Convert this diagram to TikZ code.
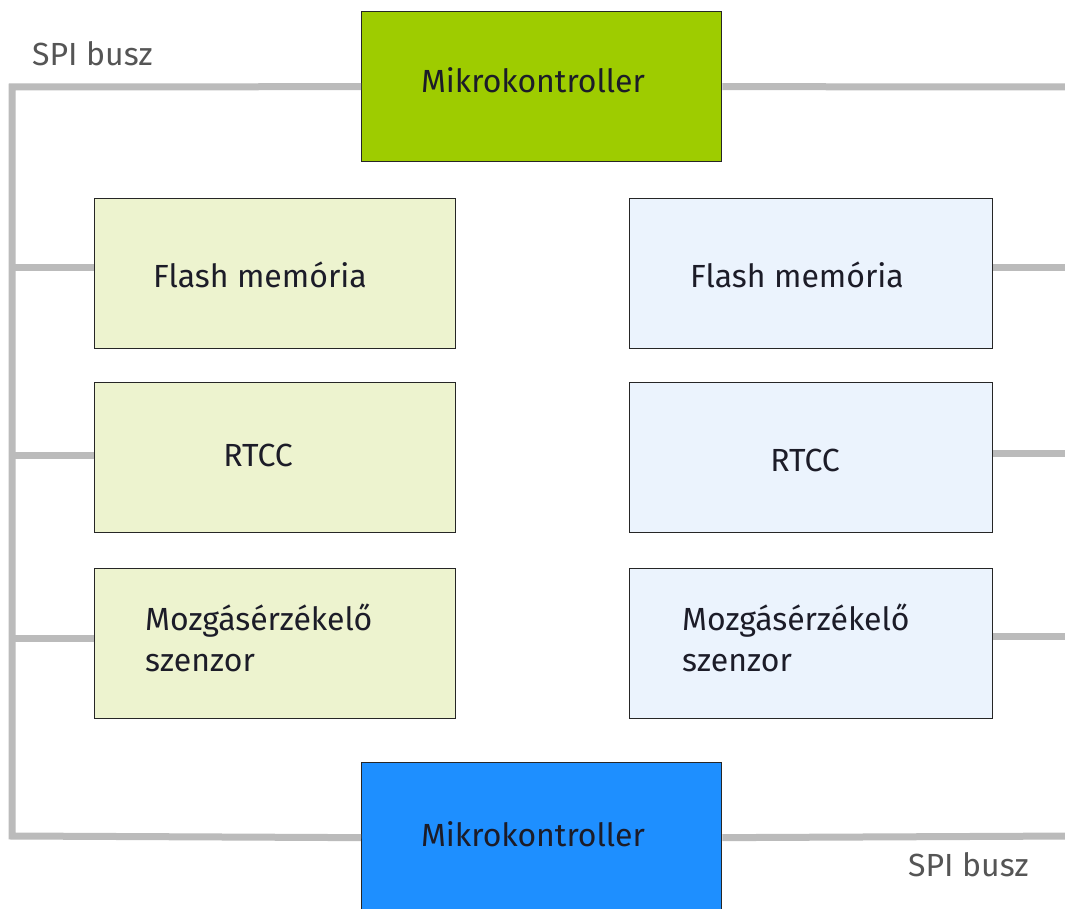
\documentclass[tikz,border=0pt]{standalone}
\usepackage{fontspec}
\setmainfont{Fira Sans}
\definecolor{busgray}{HTML}{BBBBBB}
\definecolor{mcgreen}{HTML}{9ECC00}
\definecolor{mcblue}{HTML}{1E8FFF}
\definecolor{lgreen}{HTML}{EDF3CF}
\definecolor{lblue}{HTML}{EBF3FD}
\definecolor{txtdark}{HTML}{1C1C28}
\definecolor{labgray}{HTML}{555555}
\begin{document}
\begin{tikzpicture}[x=1pt,y=-1pt,
  box/.style={draw=black!85, line width=1.3pt, minimum width=360pt, minimum height=150pt, inner sep=0pt, anchor=north west},
  txt/.style={font=\fontsize{32}{41}\selectfont, text=txtdark, inner sep=0pt, align=left},
  buslabel/.style={font=\fontsize{32}{38}\selectfont, text=labgray, inner sep=0pt},
  bus/.style={draw=busgray, line width=7pt}
]
\useasboundingbox (0,0) rectangle (1065,909);
\fill[white] (0,0) rectangle (1065,909);

% bus coordinates
\coordinate (lt) at (12,87);
\coordinate (lb) at (12,836);
\coordinate (rt) at (1075,87);
\coordinate (rb) at (1075,836);
\coordinate (le1) at (12,268);
\coordinate (le2) at (12,455);
\coordinate (le3) at (12,638);
\coordinate (re1) at (1075,268);
\coordinate (re2) at (1075,453);
\coordinate (re3) at (1075,636);

% boxes
\node[box, fill=mcgreen] (mk1) at (361,11) {};
\node[box, fill=mcblue] (mk2) at (361,762) {};
\node[box, fill=lgreen, minimum width=361pt] (fl1) at (94,198) {};
\node[box, fill=lgreen, minimum width=361pt] (rt1) at (94,382) {};
\node[box, fill=lgreen, minimum width=361pt] (mz1) at (94,568) {};
\node[box, fill=lblue, minimum width=363pt] (fl2) at (629,198) {};
\node[box, fill=lblue, minimum width=363pt] (rt2) at (629,382) {};
\node[box, fill=lblue, minimum width=363pt] (mz2) at (629,568) {};

% bus lines
\draw[bus] (mk1.west) -- (lt) -- (lb) -- (mk2.west);
\draw[bus] (fl1.west |- le1) -- (le1);
\draw[bus] (rt1.west |- le2) -- (le2);
\draw[bus] (mz1.west |- le3) -- (le3);
\draw[bus] (mk1.east) -- (rt);
\draw[bus] (mk2.east) -- (rb);
\draw[bus] (fl2.east |- re1) -- (re1);
\draw[bus] (rt2.east |- re2) -- (re2);
\draw[bus] (mz2.east |- re3) -- (re3);

% texts
\node[txt] (t1) at (533,80) {Mikrokontroller};
\node[txt] (t2) at (533,834) {Mikrokontroller};
\node[txt, anchor=west] (t3) at (153,275) {Flash memória};
\node[txt] (t4) at (258,455) {RTCC};
\node[txt, anchor=west] (t5) at (145,638) {Mozgásérzékelő\\szenzor};
\node[txt, anchor=west] (t6) at (690,275) {Flash memória};
\node[txt] (t7) at (805,460) {RTCC};
\node[txt, anchor=west] (t8) at (682,638) {Mozgásérzékelő\\szenzor};
\node[buslabel, anchor=west] (s1) at (32,54) {SPI busz};
\node[buslabel, anchor=west] (s2) at (908,865) {SPI busz};
\end{tikzpicture}
\end{document}
